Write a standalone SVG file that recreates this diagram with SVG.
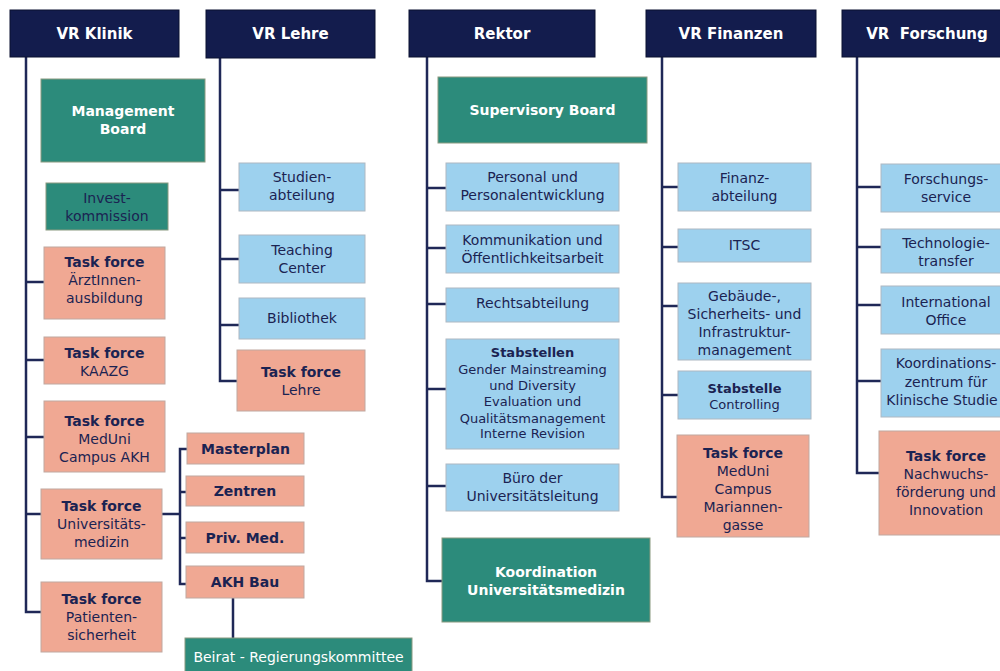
<svg xmlns="http://www.w3.org/2000/svg" width="1000" height="671" viewBox="0 0 1000 671">
<style>
  .hd{fill:#131c4d;stroke:#0b1030;stroke-width:1}
  .tl{fill:#2c8b7b;stroke:#8a9a80;stroke-width:1}
  .lb{fill:#9dd1ee;stroke:#aeb8c2;stroke-width:1}
  .sa{fill:#f0a893;stroke:#c0a8a0;stroke-width:1}
  .ln{fill:none;stroke:#1f2857;stroke-width:2.5}
  text{font-family:"DejaVu Sans",Verdana,sans-serif;text-anchor:middle;fill:#1b2352;font-size:14px}
  .hw{fill:#fff;font-weight:bold;font-size:15px}
  .bw{fill:#fff;font-weight:bold}
  .w{fill:#fff}
  .b{font-weight:bold}
  .s{font-size:13px}
</style>
<rect width="1000" height="671" fill="#fff"/>
<g id="connectors">
  <path class="ln" d="M26,57 V612 H41 M26,282 H44 M26,360 H44 M26,437 H44 M26,514 H41"/>
  <path class="ln" d="M220,58 V381 H237 M220,190 H239 M220,259 H239 M220,325 H239"/>
  <path class="ln" d="M162,514 H180 M187,449 H180 V584 H186 M180,492 H186 M180,538 H186"/>
  <path class="ln" d="M233,598 V638"/>
  <path class="ln" d="M427,57 V581 H442 M427,188 H446 M427,248 H446 M427,304 H446 M427,389 H446 M427,486 H446"/>
  <path class="ln" d="M662,57 V497 H677 M662,187 H678 M662,247 H678 M662,306 H678 M662,395 H678"/>
  <path class="ln" d="M857,57 V473 H879 M857,187 H881 M857,247 H881 M857,305 H881 M857,381 H881"/>
</g>
<g id="vr-klinik"><rect class="hd" x="10" y="10" width="169" height="47"/><text class="hw" x="94.5" y="39">VR Klinik</text></g>
<g id="vr-lehre"><rect class="hd" x="206" y="10" width="169" height="48"/><text class="hw" x="290.5" y="39">VR Lehre</text></g>
<g id="rektor"><rect class="hd" x="409" y="10" width="186" height="47"/><text class="hw" x="502" y="39">Rektor</text></g>
<g id="vr-finanzen"><rect class="hd" x="646" y="10" width="170" height="47"/><text class="hw" x="731" y="39">VR Finanzen</text></g>
<g id="vr-forschung"><rect class="hd" x="842" y="10" width="170" height="47"/><text class="hw" x="927" y="39" xml:space="preserve">VR  Forschung</text></g>

<g id="management-board"><rect class="tl" x="41" y="79" width="164" height="83"/><text class="bw" x="123" y="116">Management</text><text class="bw" x="123" y="134">Board</text></g>
<g id="investkommission"><rect class="tl" x="46" y="183" width="122" height="47"/><text x="107" y="203">Invest-</text><text x="107" y="221">kommission</text></g>
<g id="tf-aerzte"><rect class="sa" x="44" y="247" width="121" height="72"/><text class="b" x="104.5" y="267">Task force</text><text x="104.5" y="285">ÄrztInnen-</text><text x="104.5" y="303">ausbildung</text></g>
<g id="tf-kaazg"><rect class="sa" x="44" y="337" width="121" height="47"/><text class="b" x="104.5" y="358">Task force</text><text x="104.5" y="376">KAAZG</text></g>
<g id="tf-campus-akh"><rect class="sa" x="44" y="401" width="121" height="71"/><text class="b" x="104.5" y="426">Task force</text><text x="104.5" y="444">MedUni</text><text x="104.5" y="462">Campus AKH</text></g>
<g id="tf-unimed"><rect class="sa" x="41" y="489" width="121" height="70"/><text class="b" x="101.5" y="511">Task force</text><text x="101.5" y="529">Universitäts-</text><text x="101.5" y="547">medizin</text></g>
<g id="tf-patienten"><rect class="sa" x="41" y="582" width="121" height="70"/><text class="b" x="101.5" y="604">Task force</text><text x="101.5" y="622">Patienten-</text><text x="101.5" y="640">sicherheit</text></g>
<g id="masterplan"><rect class="sa" x="187" y="433" width="117" height="31"/><text class="b" x="245.5" y="454">Masterplan</text></g>
<g id="zentren"><rect class="sa" x="186" y="476" width="118" height="30"/><text class="b" x="245" y="496">Zentren</text></g>
<g id="priv-med"><rect class="sa" x="186" y="522" width="118" height="31"/><text class="b" x="245" y="543">Priv. Med.</text></g>
<g id="akh-bau"><rect class="sa" x="186" y="566" width="118" height="32"/><text class="b" x="245" y="587">AKH Bau</text></g>
<g id="beirat"><rect class="tl" x="185" y="638" width="227" height="40"/><text class="w" x="298.5" y="662">Beirat - Regierungskommittee</text></g>

<g id="studienabteilung"><rect class="lb" x="239" y="163" width="126" height="48"/><text x="302" y="182">Studien-</text><text x="302" y="200">abteilung</text></g>
<g id="teaching-center"><rect class="lb" x="239" y="235" width="126" height="48"/><text x="302" y="255">Teaching</text><text x="302" y="273">Center</text></g>
<g id="bibliothek"><rect class="lb" x="239" y="298" width="126" height="41"/><text x="302" y="323">Bibliothek</text></g>
<g id="tf-lehre"><rect class="sa" x="237" y="350" width="128" height="61"/><text class="b" x="301" y="377">Task force</text><text x="301" y="395">Lehre</text></g>

<g id="supervisory-board"><rect class="tl" x="438" y="77" width="209" height="66"/><text class="bw" x="542.5" y="115">Supervisory Board</text></g>
<g id="personal"><rect class="lb" x="446" y="163" width="173" height="48"/><text x="532.5" y="182">Personal und</text><text x="532.5" y="200">Personalentwicklung</text></g>
<g id="kommunikation"><rect class="lb" x="446" y="225" width="173" height="48"/><text x="532.5" y="245">Kommunikation und</text><text x="532.5" y="263">Öffentlichkeitsarbeit</text></g>
<g id="rechtsabteilung"><rect class="lb" x="446" y="288" width="173" height="34"/><text x="532.5" y="308">Rechtsabteilung</text></g>
<g id="stabstellen"><rect class="lb" x="446" y="339" width="173" height="110"/><text class="b s" x="532.5" y="357">Stabstellen</text><text class="s" x="532.5" y="373.5">Gender Mainstreaming</text><text class="s" x="532.5" y="390">und Diversity</text><text class="s" x="532.5" y="406">Evaluation und</text><text class="s" x="532.5" y="422.5">Qualitätsmanagement</text><text class="s" x="532.5" y="438">Interne Revision</text></g>
<g id="buero"><rect class="lb" x="446" y="464" width="173" height="47"/><text x="532.5" y="483">Büro der</text><text x="532.5" y="501">Universitätsleitung</text></g>
<g id="koordination"><rect class="tl" x="442" y="538" width="208" height="84"/><text class="bw" x="546" y="577">Koordination</text><text class="bw" x="546" y="595">Universitätsmedizin</text></g>

<g id="finanzabteilung"><rect class="lb" x="678" y="163" width="133" height="48"/><text x="744.5" y="183">Finanz-</text><text x="744.5" y="201">abteilung</text></g>
<g id="itsc"><rect class="lb" x="678" y="229" width="133" height="33"/><text x="744.5" y="250">ITSC</text></g>
<g id="gebaeude"><rect class="lb" x="678" y="283" width="133" height="77"/><text x="744.5" y="301">Gebäude-,</text><text x="744.5" y="319">Sicherheits- und</text><text x="744.5" y="337">Infrastruktur-</text><text x="744.5" y="355">management</text></g>
<g id="controlling"><rect class="lb" x="678" y="371" width="133" height="48"/><text class="b s" x="744.5" y="393">Stabstelle</text><text class="s" x="744.5" y="409">Controlling</text></g>
<g id="tf-mariannengasse"><rect class="sa" x="677" y="435" width="132" height="102"/><text class="b" x="743" y="458">Task force</text><text x="743" y="476">MedUni</text><text x="743" y="494">Campus</text><text x="743" y="512">Mariannen-</text><text x="743" y="530">gasse</text></g>

<g id="forschungsservice"><rect class="lb" x="881" y="164" width="130" height="48"/><text x="946" y="184">Forschungs-</text><text x="946" y="202">service</text></g>
<g id="technologietransfer"><rect class="lb" x="881" y="229" width="130" height="44"/><text x="946" y="248">Technologie-</text><text x="946" y="266">transfer</text></g>
<g id="international-office"><rect class="lb" x="881" y="286" width="130" height="48"/><text x="946" y="307">International</text><text x="946" y="325">Office</text></g>
<g id="kks"><rect class="lb" x="881" y="349" width="130" height="68"/><text x="946" y="368">Koordinations-</text><text x="946" y="387">zentrum für</text><text x="942" y="405">Klinische Studie</text></g>
<g id="tf-nachwuchs"><rect class="sa" x="879" y="431" width="132" height="104"/><text class="b" x="946" y="461">Task force</text><text x="946" y="479">Nachwuchs-</text><text x="946" y="497">förderung und</text><text x="946" y="515">Innovation</text></g>
</svg>
